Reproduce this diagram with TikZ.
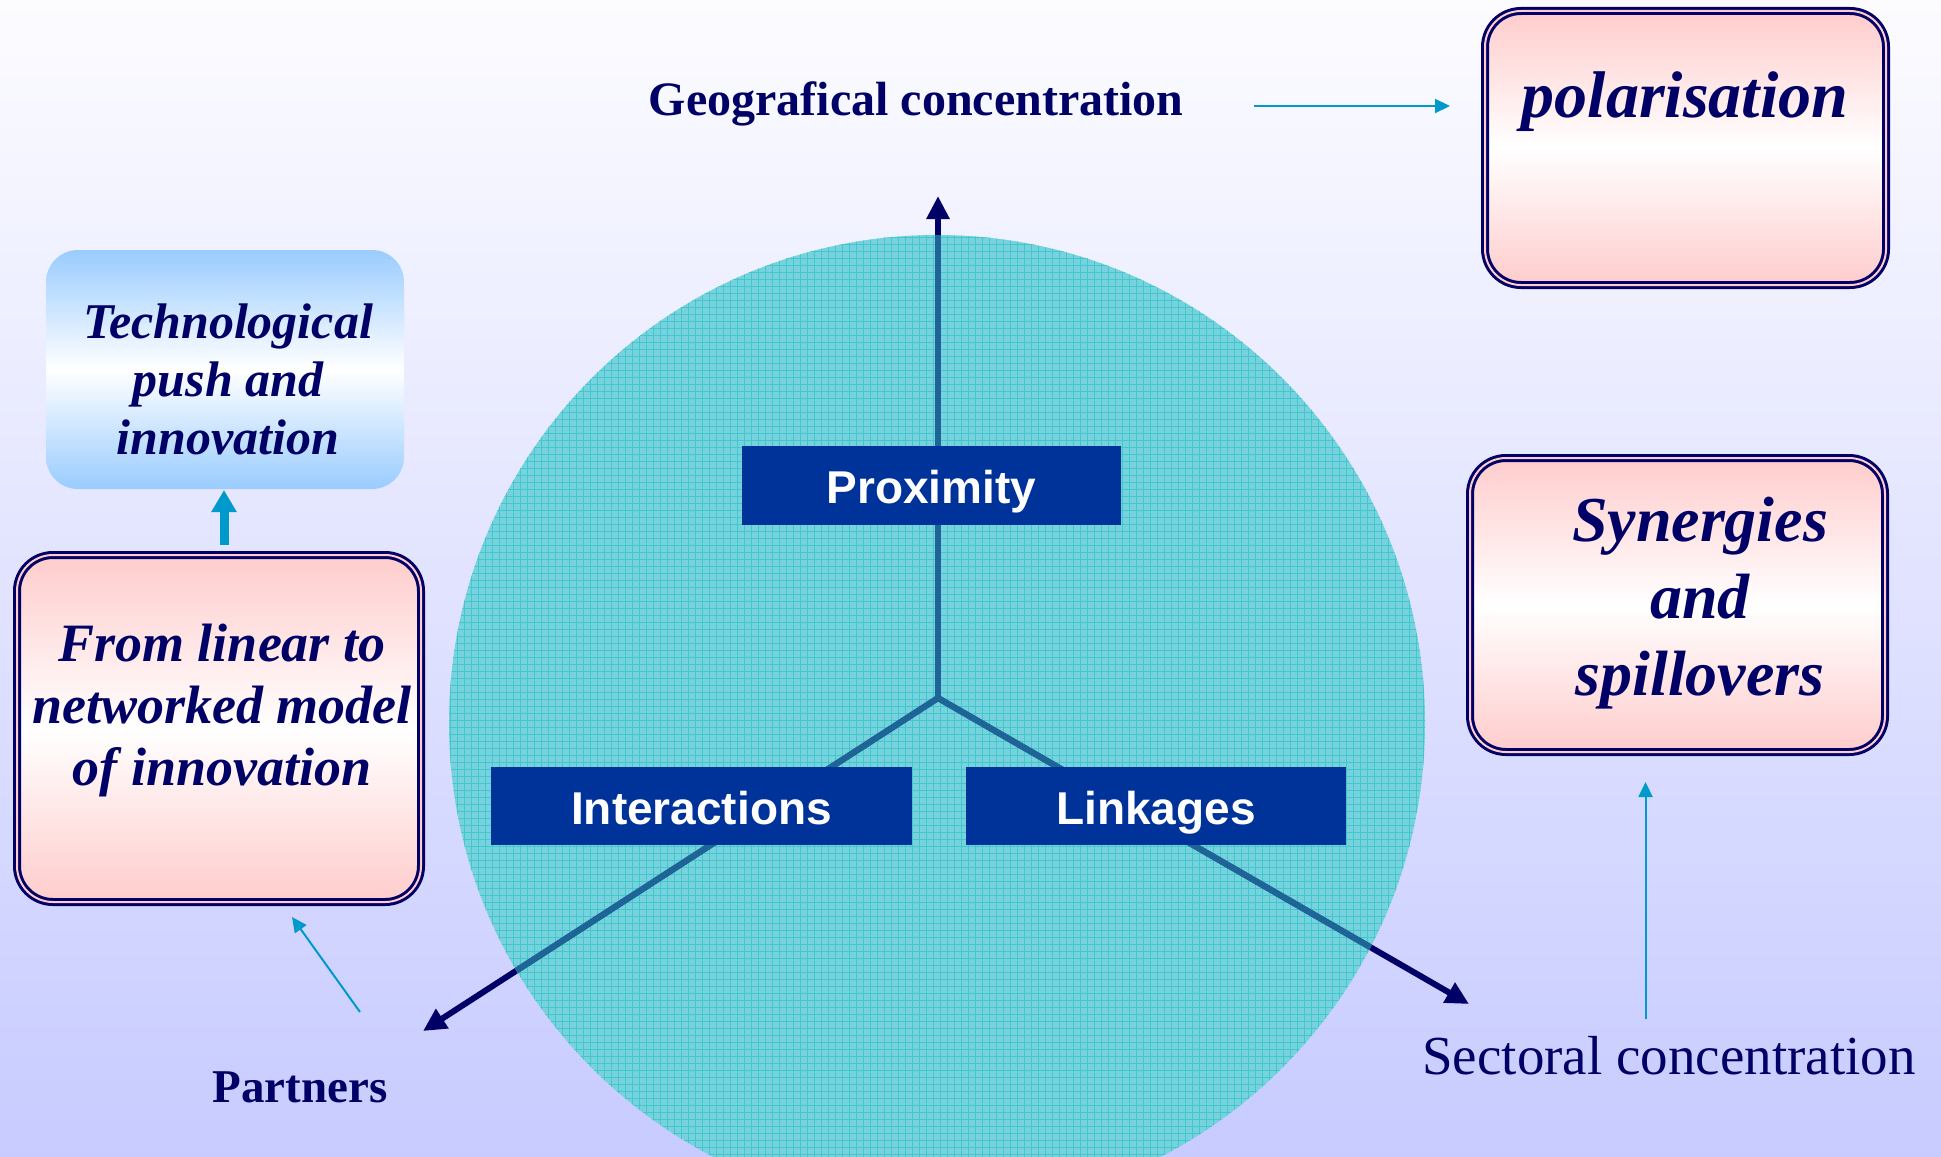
\documentclass[tikz,border=0pt]{standalone}
\usepackage{fontspec}
\setmainfont{Liberation Serif}
\newfontfamily\labelsans{Liberation Sans}
\usetikzlibrary{arrows.meta}
\definecolor{navy}{HTML}{000066}
\definecolor{boxblue}{HTML}{003399}
\definecolor{cyanarrow}{HTML}{0099CC}
\definecolor{pinkfill}{HTML}{FFCCCC}
\definecolor{bluefill}{HTML}{99CCFF}
\definecolor{circfill}{HTML}{78D2DE}
\definecolor{gridcol}{HTML}{40C8CC}
\definecolor{raycol}{HTML}{1F6496}
\definecolor{bgtop}{HTML}{FCFCFF}
\definecolor{bgbot}{HTML}{C7CBFF}
\tikzset{
  labelbox/.style={fill=boxblue, draw=none, inner sep=0pt, text=white,
    font=\labelsans\bfseries\fontsize{23}{27}\selectfont,
    text height=18pt, text depth=0pt},
  pinkbox/.style={rounded corners=18pt, draw=navy, line width=1.5pt,
    double=pinkfill, double distance=1pt,
    top color=pinkfill, bottom color=pinkfill, middle color=white,
    inner sep=0pt},
  bluebox/.style={rounded corners=16pt, draw=none,
    top color=bluefill, bottom color=bluefill, middle color=white,
    inner sep=0pt},
  boxtext/.style={anchor=base, inner sep=0pt, text=navy},
  plaintext/.style={anchor=base, inner sep=0pt, text=navy},
  navyarrow/.style={draw=navy, line width=3pt, -{Triangle[length=11.5pt,width=11pt]}},
  rayline/.style={draw=raycol, line width=3.2pt},
  thincyan/.style={draw=cyanarrow, line width=1pt, -{Triangle[length=7.5pt,width=7pt]}},
  thickcyan/.style={draw=cyanarrow, line width=4.5pt, -{Triangle[length=11pt,width=12pt]}},
}
\begin{document}
\begin{tikzpicture}[x=0.5pt, y=-0.5pt]
% background
\useasboundingbox (0,0) rectangle (1941,1156);
\shade[top color=bgtop, bottom color=bgbot] (0,0) rectangle (1941,1156);

% axes (navy, under the circle)
\coordinate (J) at (938,698);
\coordinate (U) at (938,196);
\coordinate (L) at (423,1031);
\coordinate (R) at (1469,1004);
\draw[navyarrow] (J) -- (U);
\draw[navyarrow] (J) -- (L);
\draw[navyarrow] (J) -- (R);

% circle
\node[circle, fill=circfill, minimum size=488pt, inner sep=0pt] (circ) at (937,723) {};
\begin{scope}
  \clip (937,723) circle[radius=244pt];
  \foreach \gx in {450,457,...,1428} \draw[gridcol, line width=0.35pt] (\gx,230) -- (\gx,1160);
  \foreach \gy in {237,244,...,1160} \draw[gridcol, line width=0.35pt] (445,\gy) -- (1430,\gy);
  \draw[rayline] (J) -- (U);
  \draw[rayline] (J) -- (L);
  \draw[rayline] (J) -- (R);
\end{scope}

% labels on the axes
\node[labelbox, minimum width=189.5pt, minimum height=39.5pt] (prox) at (931.5,485.5) {Proximity};
\node[labelbox, minimum width=210.5pt, minimum height=39pt] (inter) at (701.5,806) {Interactions};
\node[labelbox, minimum width=190pt, minimum height=39pt] (link) at (1156,806) {Linkages};

% axis texts
\node[plaintext, font=\bfseries\fontsize{24}{28}\selectfont] (geo) at (916,115) {Geografical concentration};
\node[plaintext, font=\fontsize{27.5}{32}\selectfont] (sect) at (1669,1074) {Sectoral concentration};
\node[plaintext, font=\bfseries\fontsize{23.5}{28}\selectfont] (part) at (300,1102) {Partners};

% boxes
\node[pinkbox, minimum width=200.5pt, minimum height=137pt] (pol) at (1685.5,148) {};
\node[boxtext, font=\bfseries\itshape\fontsize{33}{38}\selectfont] (poltext) at (1685,118) {polarisation};

\node[pinkbox, minimum width=207.5pt, minimum height=147pt] (syn) at (1677.5,605) {};
\node[boxtext, font=\bfseries\itshape\fontsize{32}{38.5}\selectfont] (syntext) at (1700,541)
  {\begin{tabular}[t]{@{}c@{}}Synergies\\and\\spillovers\end{tabular}};

\node[pinkbox, minimum width=202pt, minimum height=173.5pt] (lin) at (219,728.5) {};
\node[boxtext, font=\bfseries\itshape\fontsize{27}{31}\selectfont] (lintext) at (222,661)
  {\begin{tabular}[t]{@{}c@{}}From linear to\\networked model\\of innovation\end{tabular}};

\node[bluebox, minimum width=179pt, minimum height=119.5pt] (tech) at (225,369.5) {};
\node[boxtext, font=\bfseries\itshape\fontsize{25}{29}\selectfont] (techtext) at (228,338)
  {\begin{tabular}[t]{@{}c@{}}Technological\\push and\\innovation\end{tabular}};

% cyan connectors
\coordinate (g1) at (1254,106);
\coordinate (g2) at (1450,106);
\draw[thincyan] (g1) -- (g2);
\coordinate (s1) at (1645.5,1019);
\coordinate (s2) at (1645.5,782);
\draw[thincyan] (s1) -- (s2);
\coordinate (p1) at (360,1012);
\coordinate (p2) at (292,917);
\draw[thincyan] (p1) -- (p2);
\coordinate (t1) at (224,545);
\coordinate (t2) at (224,490);
\draw[thickcyan] (t1) -- (t2);
\end{tikzpicture}
\end{document}
